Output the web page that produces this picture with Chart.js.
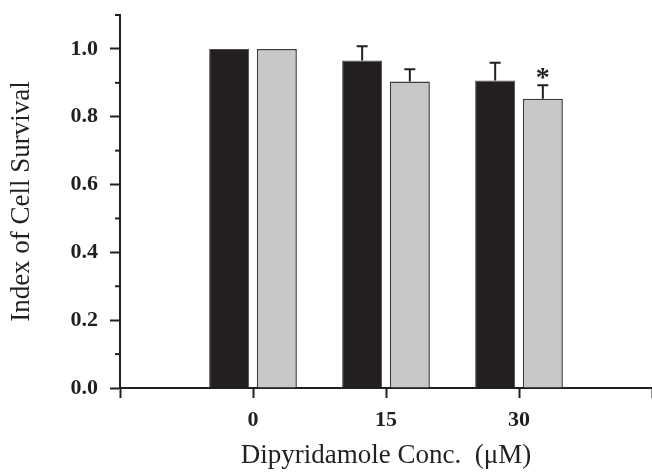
<!DOCTYPE html>
<html>
<head>
<meta charset="utf-8">
<script src="https://cdn.jsdelivr.net/npm/chart.js@4"></script>
<style>
  html, body { margin: 0; padding: 0; background: #fff; }
  #wrap { width: 652px; height: 475px; }
</style>
</head>
<body>
<div id="wrap"><canvas id="survivalChart"></canvas></div>
<script>
const concentrations = [0, 15, 30];
const blackValues = [1.0, 0.966, 0.907];
const blackErrors = [0, 0.042, 0.052];
const grayValues = [1.0, 0.904, 0.853];
const grayErrors = [0, 0.036, 0.040];
const graySignificant = [false, false, true];
const xTicks = [-15, 0, 15, 30, 45];
const yTickLabels = ['0.0', '0.2', '0.4', '0.6', '0.8', '1.0'];

const ink = '#231f20';
const serif = 'Liberation Serif';

function isMajorY(v) {
  return yTickLabels.includes(v.toFixed(1));
}

// upward error bars, asterisk and the short minor ticks on the y axis
const extras = {
  id: 'extras',
  afterDatasetsDraw(chart) {
    const ctx = chart.ctx;
    const yScale = chart.scales.y;
    const errs = [blackErrors, grayErrors];
    const vals = [blackValues, grayValues];
    ctx.save();
    ctx.strokeStyle = ink;
    ctx.fillStyle = ink;
    ctx.lineWidth = 2;
    chart.data.datasets.forEach((ds, i) => {
      const meta = chart.getDatasetMeta(i);
      meta.data.forEach((bar, j) => {
        const err = errs[i][j];
        if (!err) return;
        const yTop = yScale.getPixelForValue(vals[i][j] + err);
        ctx.beginPath();
        ctx.moveTo(bar.x, bar.y);
        ctx.lineTo(bar.x, yTop);
        ctx.moveTo(bar.x - 5.5, yTop);
        ctx.lineTo(bar.x + 5.5, yTop);
        ctx.stroke();
        if (i === 1 && graySignificant[j]) {
          ctx.font = 'bold 28px "' + serif + '"';
          ctx.textAlign = 'center';
          ctx.textBaseline = 'alphabetic';
          ctx.fillText('*', bar.x, yTop + 1);
        }
      });
    });
    // minor ticks
    const left = chart.chartArea.left;
    yScale.ticks.forEach(t => {
      if (isMajorY(t.value)) return;
      const py = yScale.getPixelForValue(t.value);
      ctx.beginPath();
      ctx.moveTo(left - 5, py);
      ctx.lineTo(left, py);
      ctx.stroke();
    });
    ctx.restore();
  }
};

new Chart(document.getElementById('survivalChart'), {
  type: 'bar',
  data: {
    datasets: [
      {
        label: 'black',
        data: concentrations.map((c, i) => ({ x: c, y: blackValues[i] })),
        backgroundColor: ink,
        borderColor: '#4a4a4a',
        borderWidth: 1
      },
      {
        label: 'gray',
        data: concentrations.map((c, i) => ({ x: c, y: grayValues[i] })),
        backgroundColor: '#c7c8ca',
        borderColor: '#3c3c3c',
        borderWidth: 1.5
      }
    ]
  },
  options: {
    responsive: true,
    maintainAspectRatio: false,
    animation: false,
    barPercentage: 0.84,
    categoryPercentage: 0.717,
    layout: { padding: { top: 15, left: 0, right: 0, bottom: 0 } },
    plugins: {
      legend: { display: false },
      tooltip: { enabled: false }
    },
    scales: {
      x: {
        type: 'linear',
        min: -15,
        max: 45,
        offset: false,
        afterBuildTicks: s => { s.ticks = xTicks.map(v => ({ value: v })); },
        afterFit: s => { s.height = 87; s.paddingLeft = 0; s.paddingRight = 0; },
        ticks: {
          autoSkip: false,
          padding: 9,
          color: ink,
          font: { family: serif, size: 22, weight: 'bold' },
          callback: v => concentrations.includes(v) ? String(v) : ''
        },
        grid: {
          offset: false,
          drawOnChartArea: false,
          drawTicks: true,
          tickLength: 10,
          tickWidth: 2,
          tickColor: ink
        },
        border: { display: true, color: ink, width: 2 },
        title: {
          display: true,
          text: 'Dipyridamole Conc.  (μM)',
          color: ink,
          font: { family: serif, size: 27 },
          padding: { top: 0, bottom: 3 }
        }
      },
      y: {
        min: 0,
        max: 1.1,
        afterFit: s => { s.width = 120; s.paddingTop = 0; s.paddingBottom = 0; },
        ticks: {
          stepSize: 0.1,
          autoSkip: false,
          padding: 12,
          color: ink,
          font: { family: serif, size: 22, weight: 'bold' },
          callback: v => isMajorY(v) ? v.toFixed(1) : ''
        },
        grid: {
          drawOnChartArea: false,
          drawTicks: true,
          tickLength: 10,
          tickWidth: 2,
          tickColor: c => (c.tick && isMajorY(c.tick.value)) ? ink : 'rgba(0,0,0,0)'
        },
        border: { display: true, color: ink, width: 2 },
        title: {
          display: true,
          text: 'Index of Cell Survival',
          color: ink,
          font: { family: serif, size: 27 },
          padding: { top: 6, bottom: 0 }
        }
      }
    }
  },
  plugins: [extras]
});
</script>
</body>
</html>
